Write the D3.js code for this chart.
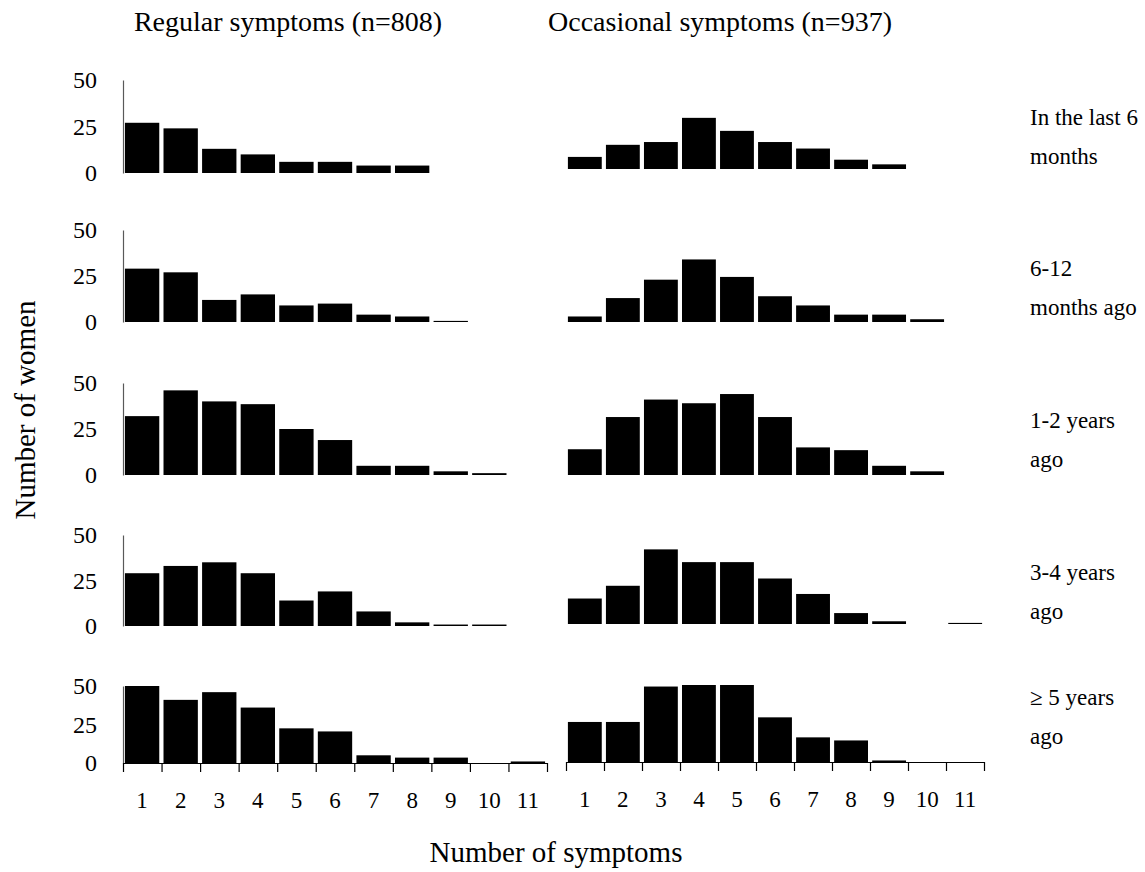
<!DOCTYPE html>
<html>
<head>
<meta charset="utf-8">
<script src="https://cdn.jsdelivr.net/npm/d3@7/dist/d3.min.js"></script>
<style>
  html, body { margin: 0; padding: 0; background: #fff; }
  svg { display: block; }
  text { font-family: "Liberation Serif", "Times New Roman", serif; fill: #000; }
</style>
</head>
<body>
<svg id="chart" width="1145" height="872"></svg>
<script>
// ---------- data ----------
const categories = ["1","2","3","4","5","6","7","8","9","10","11"];
const yTicks = [0, 25, 50];
const columnTitles = ["Regular symptoms (n=808)", "Occasional symptoms (n=937)"];
const periodLabels = [
  ["In the last 6", "months"],
  ["6-12", "months ago"],
  ["1-2 years", "ago"],
  ["3-4 years", "ago"],
  ["\u2265 5 years", "ago"]
];
const regular6m   = [27, 24, 13, 10, 6, 6, 4, 4, 0, 0, 0];
const regular12m  = [29, 27, 12, 15, 9, 10, 4, 3, 0.6, 0, 0];
const regular2y   = [32, 46, 40, 38.5, 25, 19, 5, 5, 2, 1, 0];
const regular4y   = [29, 33, 35, 29, 14, 19, 8, 2, 0.8, 0.8, 0];
const regular5y   = [50, 41, 46, 36, 22.5, 20.5, 5, 3.5, 3.5, 0, 1];
const occasional6m  = [6.5, 13, 14.5, 27.5, 20.5, 14.5, 11, 5, 2.5, 0, 0];
const occasional12m = [3, 13, 23, 34, 24.5, 14, 9, 4, 4, 1.5, 0];
const occasional2y  = [14, 31.5, 41, 39, 44, 31.5, 15, 13.5, 5, 2, 0];
const occasional4y  = [14, 21, 41, 34, 34, 25, 16.5, 6, 1.5, 0, 0.6];
const occasional5y  = [26, 26, 49, 50, 50, 29, 16, 14, 1, 0, 0];

const regularSeries = [regular6m, regular12m, regular2y, regular4y, regular5y];
const occasionalSeries = [occasional6m, occasional12m, occasional2y, occasional4y, occasional5y];

// ---------- layout ----------
const svg = d3.select("#chart");
const font = "Liberation Serif";
const rows = [
  {y0L: 173, y50L: 80,  y0R: 169, y50R: 76,  labY: 117},
  {y0L: 322, y50L: 230, y0R: 322, y50R: 230, labY: 268},
  {y0L: 475, y50L: 383, y0R: 475, y50R: 383, labY: 420},
  {y0L: 626, y50L: 535, y0R: 624, y50R: 533, labY: 572},
  {y0L: 763, y50L: 686, y0R: 762, y50R: 685, labY: 697}
];
const cols = [
  {x0: 123, x1: 547, series: regularSeries, yAxis: true, titleX: 288},
  {x0: 566, x1: 984, series: occasionalSeries, yAxis: false, titleX: 720}
];

cols.forEach((col, ci) => {
  const x = d3.scaleBand().domain(categories).range([col.x0, col.x1])
    .paddingInner(0.11).paddingOuter(0.05);
  const xLin = d3.scaleLinear().domain([0, categories.length]).range([col.x0, col.x1]);

  rows.forEach((r, ri) => {
    const y0 = ci === 0 ? r.y0L : r.y0R;
    const y50 = ci === 0 ? r.y50L : r.y50R;
    const y = d3.scaleLinear().domain([0, 50]).range([y0, y50]).clamp(true);
    const vals = col.series[ri];
    const g = svg.append("g");

    g.selectAll("rect").data(vals.map((v, i) => ({c: categories[i], v})))
      .enter().append("rect")
      .attr("x", d => x(d.c))
      .attr("width", x.bandwidth())
      .attr("y", d => y(d.v))
      .attr("height", d => y(0) - y(d.v))
      .attr("fill", "#000");

    if (col.yAxis) {
      const ya = g.append("g").attr("transform", `translate(${col.x0},0)`)
        .call(d3.axisLeft(y).tickValues(yTicks).tickSize(0).tickPadding(26).tickFormat(d3.format("d")));
      ya.select(".domain").attr("stroke", "#595959").attr("stroke-width", 1.2);
      ya.selectAll("text").style("font-family", font).style("font-size", "24px").attr("fill", "#000");
    }

    if (ri === rows.length - 1) {
      const ticksG = g.append("g").attr("transform", `translate(0,${y0})`)
        .call(d3.axisBottom(xLin).tickValues(d3.range(categories.length + 1)).tickSize(9).tickSizeOuter(0).tickFormat(""));
      ticksG.select(".domain").attr("stroke", "#000").attr("stroke-width", 1.2);
      ticksG.selectAll(".tick line").attr("stroke", "#000").attr("stroke-width", 1.2);
      const labG = g.append("g").attr("transform", `translate(0,${y0})`)
        .call(d3.axisBottom(x).tickSize(0).tickPadding(29));
      labG.select(".domain").remove();
      labG.selectAll("text").style("font-family", font).style("font-size", "23px").attr("fill", "#000");
    }
  });

  svg.append("text")
    .attr("x", col.titleX)
    .attr("y", 31)
    .attr("text-anchor", "middle")
    .style("font-size", "28px")
    .text(columnTitles[ci]);
});

// period labels on the right
rows.forEach((r, ri) => {
  const t = svg.append("text").attr("x", 1030).attr("y", r.labY).style("font-size", "23px");
  periodLabels[ri].forEach((line, li) => {
    t.append("tspan").attr("x", 1030).attr("y", r.labY + li * 39).attr("dy", "0.35em").text(line);
  });
});

// axis titles
svg.append("text")
  .attr("transform", "translate(25,410) rotate(-90)")
  .attr("text-anchor", "middle")
  .attr("dy", "0.35em")
  .style("font-size", "29px")
  .text("Number of women");

svg.append("text")
  .attr("x", 556)
  .attr("y", 852)
  .attr("text-anchor", "middle")
  .attr("dy", "0.35em")
  .style("font-size", "29px")
  .text("Number of symptoms");
</script>
</body>
</html>
